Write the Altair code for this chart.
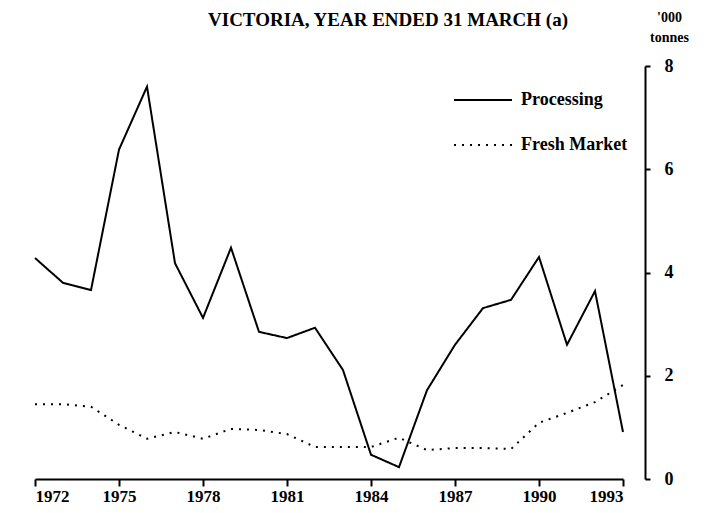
import altair as alt
import pandas as pd

title_text = "VICTORIA, YEAR ENDED 31 MARCH (a)"
years = list(range(1972, 1994))
processing = [4.28, 3.80, 3.66, 6.38, 7.60, 4.18, 3.12, 4.48, 2.85, 2.73, 2.93,
              2.11, 0.47, 0.23, 1.72, 2.60, 3.31, 3.47, 4.30, 2.60, 3.64, 0.91]
fresh_market = [1.45, 1.45, 1.40, 1.05, 0.78, 0.91, 0.78, 0.97, 0.95, 0.87, 0.62,
                0.62, 0.62, 0.80, 0.56, 0.60, 0.60, 0.58, 1.09, 1.28, 1.49, 1.82]
series_names = ["Processing", "Fresh Market"]
x_ticks = [1972, 1975, 1978, 1981, 1984, 1987, 1990, 1993]
y_ticks = [0, 2, 4, 6, 8]

rows = []
for name, vals in zip(series_names, [processing, fresh_market]):
    for yr, v in zip(years, vals):
        rows.append({"year": yr, "value": v, "series": name})
df = pd.DataFrame(rows)

FONT = "Liberation Serif"

lines = alt.Chart(df).mark_line(strokeWidth=2, color="black").encode(
    x=alt.X("year:Q",
            scale=alt.Scale(domain=[1972, 1993], nice=False, zero=False),
            axis=alt.Axis(values=x_ticks, format="d", title=None, grid=False,
                          domainColor="black", domainWidth=2, tickColor="black",
                          tickWidth=2, tickSize=7, labelFont=FONT, labelFontSize=17,
                          labelFontWeight="bold", labelColor="black", labelPadding=2)),
    y=alt.Y("value:Q",
            scale=alt.Scale(domain=[0, 8], nice=False),
            axis=alt.Axis(orient="right", offset=22, values=y_ticks, grid=False,
                          domainColor="black", domainWidth=2, tickColor="black",
                          tickWidth=2, tickSize=5, labelFont=FONT, labelFontSize=18,
                          labelFontWeight="bold", labelColor="black", labelPadding=14,
                          title=["'000", "tonnes"], titleAngle=0, titleX=24, titleY=-56,
                          titleAlign="center", titleBaseline="top", titleFont=FONT,
                          titleFontSize=14, titleFontWeight="bold", titleColor="black",
                          titleLineHeight=20)),
    strokeDash=alt.StrokeDash("series:N",
                              scale=alt.Scale(domain=series_names, range=[[1, 0], [2, 6]]),
                              legend=alt.Legend(title=None, orient="none", legendX=418,
                                                legendY=4, symbolType="stroke",
                                                symbolSize=3364, symbolStrokeWidth=2,
                                                symbolStrokeColor="black",
                                                labelFont=FONT, labelFontSize=18,
                                                labelFontWeight="bold", labelColor="black",
                                                labelOffset=8, rowPadding=6)),
    detail="series:N",
)

title = alt.Chart(pd.DataFrame({"t": [title_text]})).mark_text(
    font=FONT, fontSize=19, fontWeight="bold", color="black",
    align="center", baseline="alphabetic",
).encode(x=alt.value(353), y=alt.value(-40), text="t:N")

chart = alt.layer(lines, title).properties(
    width=588,
    height=413,
    autosize="none",
    padding={"left": 27, "top": 58, "right": 80, "bottom": 26},
).configure_view(stroke=None)

chart.save("out.html", embed_options={"renderer": "svg", "actions": False})
